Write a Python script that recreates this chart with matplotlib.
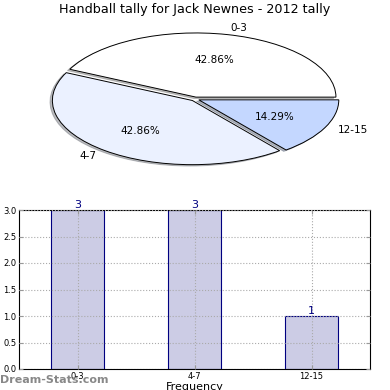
import matplotlib
matplotlib.use("Agg")
import matplotlib.pyplot as plt

categories = ["0-3", "4-7", "12-15"]
counts = [3, 3, 1]
pie_colors = ["#FFFFFF", "#EBF1FF", "#C4D7FF"]
yticks = [0.0, 0.5, 1.0, 1.5, 2.0, 2.5, 3.0]

fig = plt.figure(figsize=(3.9, 3.9), dpi=100)
fig.patch.set_facecolor("white")

fig.text(0.5, 1 - 10/390, "Handball tally for Jack Newnes - 2012 tally",
         ha="center", va="center", fontsize=9.2)

axp = fig.add_axes([27/390, 1 - 176/390, 336/390, 154/390])
wedges, texts, autotexts = axp.pie(
    counts, labels=categories, colors=pie_colors, autopct="%.2f%%",
    explode=[0.03, 0.03, 0.03],
    shadow=dict(ox=-0.012, oy=-0.015, shade=0.5), startangle=0,
    wedgeprops=dict(edgecolor="black", linewidth=0.7),
    textprops=dict(fontsize=7.5), labeldistance=1.1, pctdistance=0.6)
axp.set_aspect("auto")
axp.set_xlim(-1.2, 1.2)
axp.set_ylim(-1.2, 1.2)
axp.axis("off")

axb = fig.add_axes([19/390, 21/390, 351/390, 159/390])
x = list(range(len(categories)))
bars = axb.bar(x, counts, width=0.45, color="#CCCCE5", edgecolor="#000080",
               linewidth=0.8, zorder=1)
for xi, c in zip(x, counts):
    axb.text(xi, c, str(c), ha="center", va="bottom", color="#000080",
             fontsize=8, zorder=3)
axb.set_xlim(-0.5, 2.5)
axb.set_ylim(0, 3)
axb.set_xticks(x)
axb.set_xticklabels(categories)
axb.set_yticks(yticks)
axb.set_yticklabels([f"{v:.1f}" for v in yticks])
axb.tick_params(labelsize=6, direction="in", top=True, right=True,
                length=3, color="#999999", pad=2)
axb.grid(True, linestyle=":", color="#AAAAAA", linewidth=0.8, zorder=2)
axb.set_axisbelow(False)
axb.set_xlabel("Frequency", fontsize=8, labelpad=1)
for s in axb.spines.values():
    s.set_linewidth(0.8)

fig.text(0.0, 1 - 380/390, "Dream-Stats.com", ha="left", va="center",
         fontsize=8, color="#888888", fontweight="bold")

fig.savefig("out.png", dpi=100)
